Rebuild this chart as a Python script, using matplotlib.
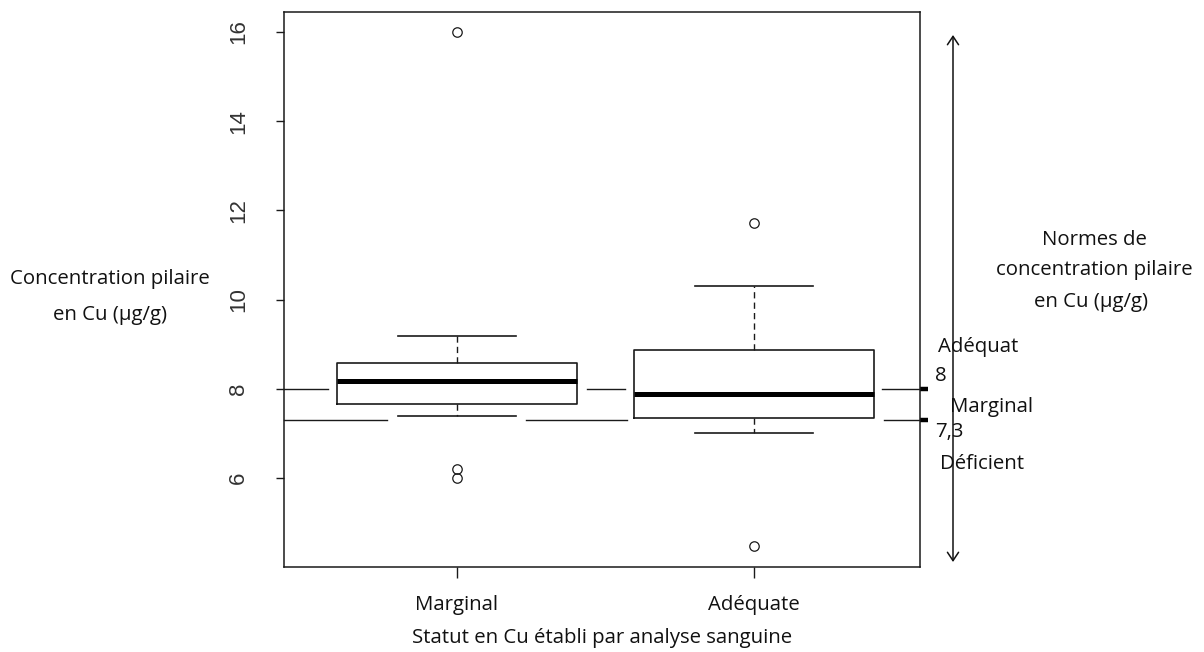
import matplotlib
matplotlib.use("Agg")
import matplotlib.pyplot as plt

# ---- data ----
groups = ["Marginal", "Adéquate"]
q1 = [7.66, 7.35]
median = [8.17, 7.88]
q3 = [8.58, 8.87]
whisker_low = [7.39, 7.01]
whisker_high = [9.18, 10.30]
outliers = [[16.0, 6.2, 6.0], [11.72, 4.48]]
y_ticks = [6, 8, 10, 12, 14, 16]
norm_thresholds = [8, 7.3]          # Adéquat / Marginal limits
norm_labels = ["8", "7,3"]
zone_labels = ["Adéquat", "Marginal", "Déficient"]

W, H = 1204, 652
fig = plt.figure(figsize=(W / 100, H / 100), dpi=100)
ax = fig.add_axes([284 / W, 1 - 567 / H, (920 - 284) / W, (567 - 12) / H])

positions = [1, 2]
stats = []
for i, g in enumerate(groups):
    stats.append(dict(med=median[i], q1=q1[i], q3=q3[i],
                      whislo=whisker_low[i], whishi=whisker_high[i],
                      fliers=outliers[i], label=g))

lc = "#1a1a1a"
ax.bxp(stats, positions=positions, widths=0.807, capwidths=0.397,
       showfliers=True,
       boxprops=dict(color=lc, linewidth=1.2),
       whiskerprops=dict(color=lc, linewidth=1.0, linestyle=(0, (4.5, 3))),
       capprops=dict(color=lc, linewidth=1.2),
       medianprops=dict(color="black", linewidth=3.6, solid_capstyle="butt"),
       flierprops=dict(marker="o", markerfacecolor="none", markeredgecolor=lc,
                       markersize=6.8, markeredgewidth=0.9))

ax.set_xlim(0.4175, 2.559)
ax.set_ylim(4.0, 16.45)

# threshold lines drawn with gaps around the boxes (as in the reference)
seg8 = [(0.4175, 0.566), (1.438, 1.566), (2.431, 2.559)]
seg73 = [(0.4175, 0.764), (1.232, 1.572), (2.438, 2.559)]
for yv, segs in zip(norm_thresholds, [seg8, seg73]):
    for a, b in segs:
        ax.plot([a, b], [yv, yv], color=lc, linewidth=1.0, clip_on=False, zorder=1)
    ax.plot([2.559, 2.586], [yv, yv], color="black", linewidth=3.2,
            solid_capstyle="butt", clip_on=False)

for s in ax.spines.values():
    s.set_color(lc)
    s.set_linewidth(1.1)

ax.set_yticks(y_ticks)
ax.set_yticklabels([str(t) for t in y_ticks], rotation=90, va="center",
                   family="Liberation Sans", fontsize=16, color="#333333")
ax.tick_params(axis="y", length=6, width=1.0, pad=19, color=lc)

tfont = dict(family="Open Sans", fontsize=14.7, color="#111111")

ax.set_xticks(positions)
ax.set_xticklabels(groups, **tfont)
ax.tick_params(axis="x", length=8, width=1.0, pad=12, color=lc)


def ftxt(x, y, s, ha="center", **kw):
    fig.text(x / W, 1 - y / H, s, ha=ha, va="center", **tfont, **kw)

ftxt(602, 638, "Statut en Cu établi par analyse sanguine")
ftxt(110, 279, "Concentration pilaire")
ftxt(110, 315, "en Cu (µg/g)")
ftxt(1094, 240, "Normes de")
ftxt(1094, 270, "concentration pilaire")
ftxt(1091, 302, "en Cu (µg/g)")
ftxt(938, 347, zone_labels[0], ha="left")
ftxt(935, 376, norm_labels[0], ha="left")
ftxt(950, 407, zone_labels[1], ha="left")
ftxt(935, 432, norm_labels[1], ha="left")
ftxt(940, 464, zone_labels[2], ha="left")

# double-headed arrow on the right
fig.add_artist(matplotlib.patches.FancyArrowPatch(
    (953 / W, 1 - 562 / H), (953 / W, 1 - 35 / H),
    transform=fig.transFigure, arrowstyle="<->,head_length=6,head_width=4",
    color="#111111", linewidth=1.1, shrinkA=0, shrinkB=0))

fig.savefig("out.png", dpi=100)
